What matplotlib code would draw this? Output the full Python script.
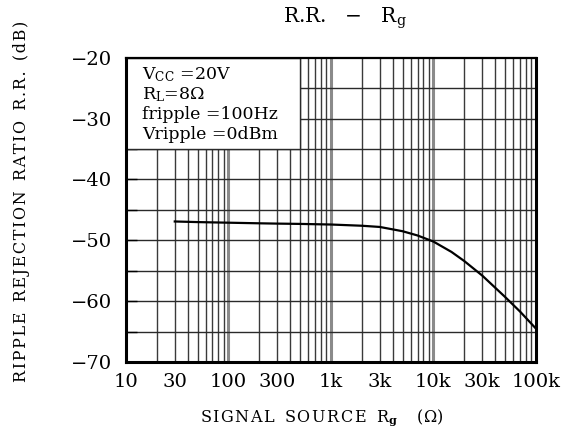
import numpy as np
import matplotlib
matplotlib.use("Agg")
import matplotlib.pyplot as plt
from matplotlib.patches import Rectangle
from matplotlib.ticker import FixedLocator, NullFormatter

plt.rcParams['font.family'] = ['DejaVu Serif']
plt.rcParams['mathtext.fontset'] = 'dejavuserif'

# curve
rg = [30, 50, 100, 200, 300, 500, 1000, 2000, 3000, 5000, 7000,
      10000, 15000, 20000, 30000, 50000, 70000, 100000]
rr = [-46.9, -47.0, -47.1, -47.2, -47.25, -47.3, -47.4, -47.6, -47.8, -48.5, -49.2,
      -50.2, -51.9, -53.4, -55.8, -59.3, -61.7, -64.5]

xticks = [10, 30, 100, 300, 1000, 3000, 10000, 30000, 100000]
xlabels = ['10', '30', '100', '300', '1k', '3k', '10k', '30k', '100k']
yticks = [-20, -30, -40, -50, -60, -70]
yminor = [-25, -35, -45, -55, -65]
decades = [100, 1000, 10000]

def spaced(s):
    # slight letter spacing like the scanned sheet
    return '\u200a'.join(s)

fig = plt.figure(figsize=(5.8, 4.41), dpi=100)
ax = fig.add_axes([0.217, 0.179, 0.707, 0.69])
ax.set_xscale('log')
ax.set_xlim(10, 100000)
ax.set_ylim(-70, -20)

# grid by hand
for d in [10, 100, 1000, 10000]:
    for m in range(2, 10):
        ax.axvline(d * m, color='#3a3a3a', lw=1.0, zorder=1)
for d in decades:
    ax.axvline(d, color='#8a8a8a', lw=2.2, zorder=1)
for y in yticks[1:-1] + yminor:
    ax.axhline(y, color='#2a2a2a', lw=1.0, zorder=1)

# white box for the conditions
ax.add_patch(Rectangle((10, -35), 490, 15, facecolor='white', edgecolor='#2a2a2a',
                       lw=1.0, zorder=2))

ax.plot(rg, rr, color='black', lw=1.6, zorder=3)

ax.set_xticks(xticks)
ax.set_xticklabels(xlabels)
ax.xaxis.set_minor_locator(FixedLocator([]))
ax.xaxis.set_minor_formatter(NullFormatter())
ax.set_yticks(yticks)
ax.set_yticklabels(['\u221220', '\u221230', '\u221240', '\u221250', '\u221260', '\u221270'])
ax.set_yticks(yminor, minor=True)
ax.tick_params(axis='x', which='both', length=0, pad=8, labelsize=14)
ax.tick_params(axis='y', which='both', direction='in', length=8, width=1,
               pad=10, labelsize=14)

for s in ['left', 'right', 'bottom']:
    ax.spines[s].set_linewidth(2.2)
ax.spines['top'].set_linewidth(1.6)
for s in ax.spines.values():
    s.set_zorder(4)

fs = 12.5
ax.text(0.04, 0.975, 'V$_{\\rm CC}$ =20V', transform=ax.transAxes, fontsize=fs, va='top', zorder=5)
ax.text(0.04, 0.91, 'R$_{\\rm L}$=8\u03a9', transform=ax.transAxes, fontsize=fs, va='top', zorder=5)
ax.text(0.04, 0.84, 'fripple =100Hz', transform=ax.transAxes, fontsize=fs, va='top', zorder=5)
ax.text(0.04, 0.775, 'Vripple =0dBm', transform=ax.transAxes, fontsize=fs, va='top', zorder=5)

fig.text(345 / 580, 1 - 18 / 441, 'R.R.   \u2212   R$_{\\rm g}$',
         ha='center', va='center', fontsize=14.5)
fig.text(322 / 580, 1 - 418 / 441, spaced('SIGNAL') + '  ' + spaced('SOURCE') + '  R$_{\\mathbf{g}}$    (\u03a9)',
         ha='center', va='center', fontsize=11.5)
ylab = '  '.join(spaced(w) for w in ['RIPPLE', 'REJECTION', 'RATIO', 'R.R.', '(dB)'])
fig.text(22 / 580, 1 - 201 / 441, ylab, rotation=90,
         ha='center', va='center', fontsize=11.5)

fig.savefig('out.png', dpi=100, facecolor='white')
